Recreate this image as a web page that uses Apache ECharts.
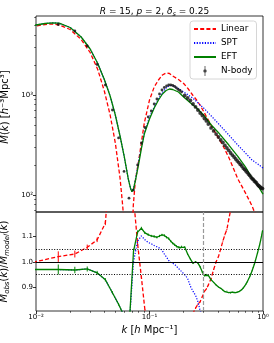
<!DOCTYPE html>
<html><head><meta charset="utf-8">
<script src="https://cdn.jsdelivr.net/npm/echarts@6/dist/echarts.min.js"></script>
<style>html,body{margin:0;padding:0;background:#fff}#c{width:274px;height:343px}</style>
</head><body><div id="c"></div>
<script>
// ---- N-body bins (k) and measurements ----
const nbK = [0.00942,0.01571,0.02199,0.02827,0.03456,0.04084,0.04712,0.05341,0.05969,0.06597,0.07226,0.07854,0.08482,0.09111,0.09739,0.10367,0.10996,0.11624,0.12252,0.12881,0.13509,0.14137,0.14765,0.15394,0.16022,0.16650,0.17279,0.17907,0.18535,0.19164,
  0.20420,0.21677,0.22934,0.24190,0.25447,0.26704,0.27960,0.29217,0.30473,0.31730,0.32987,
  0.34871,0.36756,0.38642,0.40527,0.42412,0.44296,0.46181,0.48066,0.49951,0.51836,0.53721,0.55606,0.57491,0.59376,0.61261,0.63146,0.65031,0.66916,0.68801,0.70686,0.72571,0.74456,0.76341,0.78226,0.80111,0.81996,0.83881,0.85766,0.87651,0.89536,0.91421,0.93306,0.95191,0.97075,0.98960];
const nbM = [4810,5070,4365,3090,2018,1259,708,372,172,93,112,200,331,473,603,692,813,912,1023,1122,1189,1230,1259,1259,1245,1216,1175,1135,1109,1072,
  989,933,881,813,759,708,661,624,582,550,513,
  468,437,407,380,355,335,313,295,279,263,251,240,229,219,211,202,195,186,180,174,168,162,157,151,146,143,138,135,132,127,124,122,119,117,116];
const nbErr = [0.035,0.02,0.013,0.01,0.008,0.007,0.006,0.006,0.008,0.012,0.01,0.006,0.005,0.004,0.004,0.004,0.004,0.004,0.004,0.004,0.004,0.004,0.004,0.004,0.004,0.004,0.004,0.004,0.004,0.004,
  0.003,0.003,0.003,0.003,0.003,0.003,0.003,0.003,0.003,0.003,0.003,
  0.002,0.002,0.002,0.002,0.002,0.002,0.002,0.002,0.002,0.002,0.002,0.002,0.002,0.002,0.002,0.002,0.002,0.002,0.002,0.002,0.002,0.002,0.002,0.002,0.002,0.002,0.002,0.002,0.002,0.002,0.002,0.002,0.002,0.002,0.002];

// ---- model curves (top panel) ----
const linK = [0.009,0.01,0.012,0.014,0.016,0.02,0.025,0.03,0.035,0.04,0.045,0.05,0.055,0.058,0.06,0.062,0.064,0.066,0.068,0.07,0.072,0.075,0.08,0.085,0.09,0.1,0.11,0.12,0.13,0.14,0.15,0.16,0.18,0.2,0.22,0.24,0.26,0.28,0.3,0.32,0.36,0.4,0.45,0.5,0.6,0.7,0.8,0.9,1.0];
const linM = [4842,4898,5070,5129,5012,4519,3589,2661,1799,1096,631,331,148,79,48,25,10,2,6.3,32,79,138,214,339,525,891,1202,1413,1585,1660,1641,1549,1429,1303,1148,1000,891,785,684,596,468,380,302,237,145,105,78,56,40];
const sptK = [0.009,0.01,0.012,0.014,0.016,0.02,0.025,0.03,0.035,0.04,0.045,0.05,0.055,0.06,0.065,0.068,0.07,0.0723,0.075,0.08,0.085,0.09,0.1,0.11,0.12,0.13,0.14,0.15,0.16,0.17,0.18,0.2,0.22,0.24,0.26,0.28,0.3,0.35,0.4,0.5,0.6,0.7,0.8,0.9,1.0];
const sptM = [4898,5012,5188,5272,5224,4732,3802,2884,2065,1429,977,631,389,240,145,117,108,115,141,214,302,417,603,759,912,1059,1175,1245,1245,1202,1161,1072,1000,933,861,794,741,617,525,398,316,263,224,204,186];
const eftK = [0.009,0.01,0.012,0.014,0.016,0.02,0.025,0.03,0.035,0.04,0.045,0.05,0.055,0.06,0.065,0.068,0.07,0.0723,0.075,0.08,0.085,0.09,0.1,0.11,0.12,0.13,0.14,0.15,0.16,0.18,0.2,0.23,0.26,0.3,0.35,0.4,0.5,0.6,0.7,0.8,0.9,1.0];
const eftM = [4898,5012,5188,5272,5224,4732,3802,2884,2065,1429,977,631,389,240,145,117,108,115,138,200,295,407,575,741,891,1023,1109,1148,1135,1072,955,832,741,631,501,427,316,243,191,148,125,102];

// ---- ratios M_obs / M_model on the N-body bins ----
const ratioLin = [0.998,1.02,1.03,1.056,1.085,1.15,1.5,2.3,5,12,1.25,1.07,0.94,0.813,0.70,0.68,0.675,0.68,0.69,0.70,0.71,0.72,0.73,0.735,0.74,0.745,0.75,0.755,0.76,0.765,
  0.77,0.775,0.785,0.80,0.82,0.835,0.845,0.865,0.885,0.895,0.91,
  0.935,0.97,1.0,1.02,1.05,1.08,1.105,1.125,1.165,1.20,1.24,1.28,1.32,1.37,1.42,1.47,1.53,1.59,1.65,1.71,1.78,1.85,1.92,2.0,2.08,2.16,2.24,2.33,2.42,2.5,2.6,2.7,2.8,2.9,3.0];
const ratioSpt = [0.97,0.97,0.968,0.972,0.957,0.93,0.88,0.835,0.79,0.74,1.0,1.08,1.10,1.085,1.075,1.07,1.063,1.058,1.053,1.045,1.03,1.018,1.005,0.998,0.995,0.99,0.985,0.975,0.968,0.962,
  0.95,0.935,0.905,0.885,0.87,0.845,0.81,0.79,0.775,0.76,0.75,
  0.74,0.73,0.72,0.71,0.70,0.695,0.69,0.685,0.68,0.675,0.67,0.667,0.664,0.661,0.658,0.655,0.652,0.65,0.648,0.646,0.644,0.642,0.64,0.638,0.636,0.634,0.633,0.632,0.631,0.63,0.629,0.628,0.627,0.626,0.625];
const ratioEft = [0.97,0.97,0.968,0.972,0.957,0.93,0.88,0.835,0.79,0.74,1.04,1.115,1.13,1.112,1.105,1.10,1.098,1.095,1.10,1.104,1.102,1.095,1.09,1.08,1.072,1.066,1.06,1.056,1.055,1.058,
  1.057,1.03,1.01,0.994,1.0,0.995,0.98,0.96,0.946,0.95,0.947,
  0.93,0.92,0.91,0.902,0.897,0.89,0.884,0.886,0.88,0.878,0.882,0.879,0.88,0.882,0.884,0.888,0.892,0.897,0.905,0.913,0.922,0.932,0.942,0.953,0.965,0.978,0.99,1.005,1.02,1.035,1.05,1.065,1.082,1.10,1.12];

// ---- ticks / reference lines ----
const xTickVals = [0.01, 0.1, 1];
const xTickLabels = ['10⁻²', '10⁻¹', '10⁰'];
const xMinorVals = [0.02,0.03,0.04,0.05,0.06,0.07,0.08,0.09,0.2,0.3,0.4,0.5,0.6,0.7,0.8,0.9];
const yTopTickVals = [100, 1000];
const yTopTickLabels = ['10²', '10³'];
const yTopMinorVals = [70,80,90,200,300,400,500,600,700,800,900,2000,3000,4000,5000,6000];
const yBotTickVals = [0.9, 1.0, 1.1];
const yBotTickLabels = ['0.9', '1.0', '1.1'];
const refOne = 1.0, refBand = [1.05, 0.95], kMarker = 0.3;

const FF = 'DejaVu Sans';
const RED = '#ff0000', BLUE = '#0000ff', GREEN = '#008000';

const zip = (a, b) => a.map((v, i) => [v, b[i]]);
function labelFor(vals, labels, log) {
  return function (v) {
    for (let i = 0; i < vals.length; i++) {
      const d = log ? Math.abs(Math.log10(vals[i]) - Math.log10(v)) : Math.abs(vals[i] - v);
      if (d < 1e-6) return labels[i];
    }
    return '';
  };
}
function errRender(color, width) {
  return function (params, api) {
    const k = api.value(0), lo = api.value(1), hi = api.value(2);
    const p1 = api.coord([k, lo]), p2 = api.coord([k, hi]);
    return { type: 'line', shape: { x1: p1[0], y1: p1[1], x2: p2[0], y2: p2[1] },
      style: { stroke: color, lineWidth: width } };
  };
}
const ratioErrData = (r) => nbK.map((k, i) => [k, r[i] * (1 - nbErr[i]), r[i] * (1 + nbErr[i])]);

const richName = {
  i: { fontStyle: 'italic', fontSize: 10, fontFamily: FF, lineHeight: 13 },
  n: { fontSize: 10, fontFamily: FF, lineHeight: 13 },
  sub: { fontStyle: 'italic', fontSize: 7, fontFamily: FF, lineHeight: 7, verticalAlign: 'bottom' }
};

const chart = echarts.init(document.getElementById('c'), null, { renderer: 'canvas' });
const tickLine = { color: '#000', width: 0.8 };
const option = {
  animation: false,
  backgroundColor: '#fff',
  title: {
    text: '{i|R}{n| = 15, }{i|p}{n| = 2, }{i|δ}{sub|s}{n| = 0.25}',
    left: 149.5, top: 1, textAlign: 'center',
    textStyle: { fontSize: 9, fontWeight: 'normal', color: '#000', fontFamily: FF,
      rich: {
        i: { fontStyle: 'italic', fontSize: 9, fontFamily: FF, lineHeight: 12 },
        n: { fontSize: 9, fontFamily: FF, lineHeight: 12 },
        sub: { fontStyle: 'italic', fontSize: 6.5, fontFamily: FF, lineHeight: 7, verticalAlign: 'bottom' }
      } }
  },
  legend: {
    orient: 'vertical', left: 190, top: 21,
    padding: [3, 4, 3, 3], itemGap: 4, itemWidth: 22, itemHeight: 10,
    backgroundColor: 'rgba(255,255,255,0.8)', borderColor: '#cccccc', borderWidth: 0.8, borderRadius: 3,
    selectedMode: false,
    itemStyle: { opacity: 0, borderWidth: 0 },
    textStyle: { fontSize: 8.8, fontFamily: FF, color: '#000', lineHeight: 10 },
    data: [
      { name: 'Linear' }, { name: 'SPT' }, { name: 'EFT' },
      { name: 'N-body', itemStyle: { opacity: 1, color: '#444' },
        icon: 'path://M0,0L0.01,0L0,0.01Z M22,10L21.99,10L22,9.99Z M10.6,0L11.4,0L11.4,10L10.6,10Z M12.7,5A1.7,1.7,0,1,1,9.3,5A1.7,1.7,0,1,1,12.7,5Z' }
    ]
  },
  grid: [
    { left: 36, top: 16, width: 227, height: 196, show: true, borderColor: '#000', borderWidth: 0.8, backgroundColor: 'transparent', containLabel: false, outerBoundsMode: 'none' },
    { left: 36, top: 212, width: 227, height: 99, show: true, borderColor: '#000', borderWidth: 0.8, backgroundColor: 'transparent', containLabel: false, outerBoundsMode: 'none' }
  ],
  xAxis: [
    { gridIndex: 0, type: 'log', logBase: 10, min: 0.01, max: 1, axisLine: { show: false }, axisTick: { show: false }, axisLabel: { show: false }, splitLine: { show: false } },
    { gridIndex: 1, type: 'log', logBase: 10, min: 0.01, max: 1, position: 'bottom',
      axisLine: { show: false },
      axisTick: { show: true, length: 3, lineStyle: tickLine, customValues: xTickVals },
      axisLabel: { show: true, customValues: xTickVals, formatter: labelFor(xTickVals, xTickLabels, true), fontSize: 7, fontFamily: FF, color: '#000', margin: 3, hideOverlap: false },
      splitLine: { show: false },
      name: '{i|k}{n| [}{i|h}{n| Mpc⁻¹]}', nameLocation: 'middle', nameGap: 13,
      nameTextStyle: { fontSize: 10, fontFamily: FF, color: '#000', rich: richName } },
    { gridIndex: 1, type: 'log', logBase: 10, min: 0.01, max: 1, position: 'bottom', offset: 0,
      axisLine: { show: false },
      axisTick: { show: true, length: 1.8, lineStyle: { color: '#000', width: 0.6 }, customValues: xMinorVals },
      axisLabel: { show: false }, splitLine: { show: false } }
  ],
  yAxis: [
    { gridIndex: 0, type: 'log', logBase: 10, min: 67.6, max: 6166, position: 'left',
      axisLine: { show: false },
      axisTick: { show: true, length: 3, lineStyle: tickLine, customValues: yTopTickVals },
      axisLabel: { show: true, customValues: yTopTickVals, formatter: labelFor(yTopTickVals, yTopTickLabels, true), fontSize: 7, fontFamily: FF, color: '#000', margin: 3 },
      splitLine: { show: false },
      name: '{i|M}{n|(}{i|k}{n|) [}{i|h}{n|⁻³Mpc³]}', nameLocation: 'middle', nameGap: 20,
      nameTextStyle: { fontSize: 10, fontFamily: FF, color: '#000', rich: richName, padding: [0, 0, 0, 14] } },
    { gridIndex: 0, type: 'log', logBase: 10, min: 67.6, max: 6166, position: 'left', offset: 0,
      axisLine: { show: false },
      axisTick: { show: true, length: 1.8, lineStyle: { color: '#000', width: 0.6 }, customValues: yTopMinorVals },
      axisLabel: { show: false }, splitLine: { show: false } },
    { gridIndex: 1, type: 'value', min: 0.809, max: 1.193, position: 'left',
      axisLine: { show: false },
      axisTick: { show: true, length: 3, lineStyle: tickLine, customValues: yBotTickVals },
      axisLabel: { show: true, customValues: yBotTickVals, formatter: labelFor(yBotTickVals, yBotTickLabels, false), fontSize: 7, fontFamily: FF, color: '#000', margin: 3 },
      splitLine: { show: false },
      name: '{i|M}{sub|obs}{n|(}{i|k}{n|)/}{i|M}{sub|model}{n|(}{i|k}{n|)}', nameLocation: 'middle', nameGap: 20,
      nameTextStyle: { fontSize: 10, fontFamily: FF, color: '#000', rich: richName } }
  ],
  series: [
    { name: 'Linear', type: 'line', xAxisIndex: 0, yAxisIndex: 0, data: zip(linK, linM), symbol: 'none', clip: true,
      color: RED, lineStyle: { color: RED, width: 1.3, type: [4, 2.2] }, z: 2 },
    { name: 'SPT', type: 'line', xAxisIndex: 0, yAxisIndex: 0, data: zip(sptK, sptM), symbol: 'none', clip: true,
      color: BLUE, lineStyle: { color: BLUE, width: 1.2, type: [1.2, 1.5] }, z: 3 },
    { name: 'EFT', type: 'line', xAxisIndex: 0, yAxisIndex: 0, data: zip(eftK, eftM), symbol: 'none', clip: true,
      color: GREEN, lineStyle: { color: GREEN, width: 1.3 }, z: 4 },
    { name: 'N-body', type: 'scatter', xAxisIndex: 0, yAxisIndex: 0, data: zip(nbK, nbM), symbol: 'circle',
      symbolSize: (v) => (v[0] > 0.2 ? 3.8 : 2.8), clip: true,
      color: '#111', itemStyle: { color: '#111', opacity: 0.8 }, z: 6 },
    { name: 'N-body-err', type: 'custom', xAxisIndex: 0, yAxisIndex: 0, clip: true, z: 5,
      data: nbK.map((k, i) => [k, nbM[i] * (1 - nbErr[i]), nbM[i] * (1 + nbErr[i])]),
      encode: { x: 0, y: [1, 2] }, renderItem: errRender('#333', 0.8) },

    { name: 'Linear', type: 'line', xAxisIndex: 1, yAxisIndex: 2, data: zip(nbK, ratioLin), symbol: 'none', clip: true,
      color: RED, lineStyle: { color: RED, width: 1.3, type: [4, 2.2] }, z: 2 },
    { name: 'SPT', type: 'line', xAxisIndex: 1, yAxisIndex: 2, data: zip(nbK, ratioSpt), symbol: 'none', clip: true,
      color: BLUE, lineStyle: { color: BLUE, width: 1.2, type: [1.2, 1.5] }, z: 3 },
    { name: 'EFT', type: 'line', xAxisIndex: 1, yAxisIndex: 2, data: zip(nbK, ratioEft), symbol: 'none', clip: true,
      color: GREEN, lineStyle: { color: GREEN, width: 1.3 }, z: 4,
      markLine: { silent: true, symbol: ['none', 'none'], label: { show: false }, animation: false,
        data: [
          { yAxis: refOne, lineStyle: { color: '#000', width: 1.1, type: 'solid' } },
          { yAxis: refBand[0], lineStyle: { color: '#000', width: 1, type: [1, 1.6] } },
          { yAxis: refBand[1], lineStyle: { color: '#000', width: 1, type: [1, 1.6] } },
          { xAxis: kMarker, lineStyle: { color: '#999999', width: 1.2, type: [4, 2] } }
        ] } },
    { name: 'lin-err', type: 'custom', xAxisIndex: 1, yAxisIndex: 2, clip: true, z: 2,
      data: ratioErrData(ratioLin), encode: { x: 0, y: [1, 2] }, renderItem: errRender(RED, 1) },
    { name: 'eft-err', type: 'custom', xAxisIndex: 1, yAxisIndex: 2, clip: true, z: 4,
      data: ratioErrData(ratioEft), encode: { x: 0, y: [1, 2] }, renderItem: errRender(GREEN, 1) }
  ]
};
chart.setOption(option);
</script></body></html>
